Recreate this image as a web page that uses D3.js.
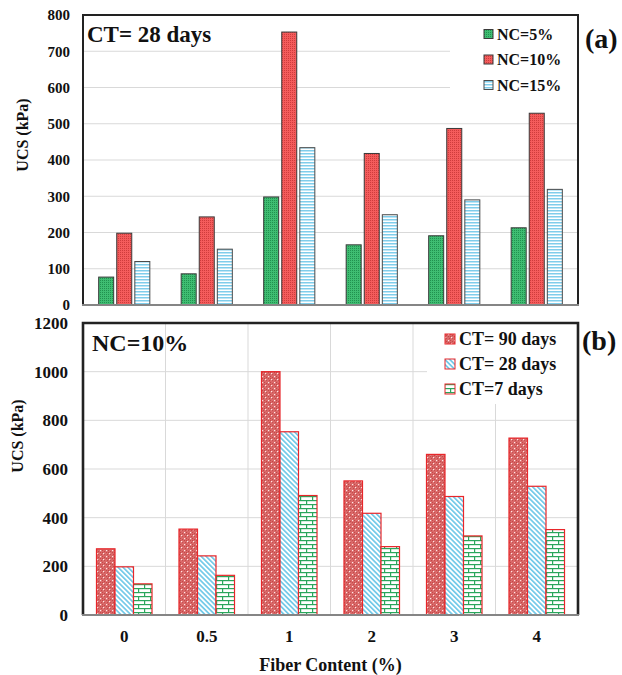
<!DOCTYPE html>
<html>
<head>
<meta charset="utf-8">
<script src="https://cdn.jsdelivr.net/npm/d3@7"></script>
<style>
  html, body { margin: 0; padding: 0; background: #fff; }
  svg text { font-family: "Liberation Serif", "Times New Roman", serif; font-weight: bold; fill: #111; }
</style>
</head>
<body>
<svg id="chart" width="622" height="675"></svg>
<script>
// Fiber content categories (%)
const fiberContent = ["0", "0.5", "1", "2", "3", "4"];

// (a) UCS at 28 days curing, by nano-clay content
const nc5  = [77, 86, 298, 166, 191, 213];
const nc10 = [198, 243, 753, 418, 487, 529];
const nc15 = [120, 154, 434, 249, 290, 319];

// (b) UCS at NC = 10%, by curing time
const ct90 = [272, 353, 1000, 551, 660, 727];
const ct28 = [198, 243, 753, 418, 487, 529];
const ct7  = [128, 163, 491, 281, 325, 351];

const ticksA = [0, 100, 200, 300, 400, 500, 600, 700, 800];
const ticksB = [0, 200, 400, 600, 800, 1000, 1200];

const seriesA = [
  { name: "NC=5%",  values: nc5,  fill: "url(#pGreenDots)", stroke: "#3a3a3a" },
  { name: "NC=10%", values: nc10, fill: "url(#pRedDots)",   stroke: "#3a3a3a" },
  { name: "NC=15%", values: nc15, fill: "url(#pBlueLines)", stroke: "#4a4a4a" }
];
const seriesB = [
  { name: "CT= 90 days", values: ct90, fill: "url(#pRedSpeckle)", stroke: "#e8262a" },
  { name: "CT= 28 days", values: ct28, fill: "url(#pBlueDiag)",   stroke: "#e8262a" },
  { name: "CT=7 days",   values: ct7,  fill: "url(#pGreenBrick)", stroke: "#e8262a" }
];

const svg = d3.select("#chart");
const defs = svg.append("defs");

// ---- fill patterns ----
function pattern(id, w, h, transform) {
  const p = defs.append("pattern").attr("id", id).attr("patternUnits", "userSpaceOnUse")
    .attr("width", w).attr("height", h);
  if (transform) p.attr("patternTransform", transform);
  return p;
}
let p = pattern("pGreenDots", 2, 2);
p.append("rect").attr("width", 2).attr("height", 2).attr("fill", "#3fbd72");
p.append("rect").attr("width", 1).attr("height", 1).attr("fill", "#21914f");

p = pattern("pRedDots", 2, 2);
p.append("rect").attr("width", 2).attr("height", 2).attr("fill", "#f45c5c");
p.append("rect").attr("width", 1).attr("height", 1).attr("fill", "#cf3c3c");

p = pattern("pBlueLines", 4, 3);
p.append("rect").attr("width", 4).attr("height", 3).attr("fill", "#ffffff");
p.append("rect").attr("width", 4).attr("height", 1.5).attr("fill", "#7fcdeb");

p = pattern("pRedSpeckle", 6, 6);
p.append("rect").attr("width", 6).attr("height", 6).attr("fill", "#d96868");
[[0, 0], [2, 2], [4, 0], [0, 4], [4, 4], [2, 5], [5, 2]].forEach(([x, y]) =>
  p.append("rect").attr("x", x).attr("y", y).attr("width", 1).attr("height", 1).attr("fill", "#c44848"));
p.append("rect").attr("x", 1).attr("y", 1).attr("width", 1.2).attr("height", 1.2).attr("fill", "#ffe6e6");
p.append("rect").attr("x", 4).attr("y", 4).attr("width", 1.2).attr("height", 1.2).attr("fill", "#ffe6e6");

p = pattern("pBlueDiag", 3.5, 3.5, "rotate(-45)");
p.append("rect").attr("width", 3.5).attr("height", 3.5).attr("fill", "#ffffff");
p.append("rect").attr("width", 1.7).attr("height", 3.5).attr("fill", "#72c9e8");

p = pattern("pGreenBrick", 12, 8);
p.append("rect").attr("width", 12).attr("height", 8).attr("fill", "#ffffff");
p.append("rect").attr("y", 0).attr("width", 12).attr("height", 1.2).attr("fill", "#2aa65c");
p.append("rect").attr("y", 4).attr("width", 12).attr("height", 1.2).attr("fill", "#2aa65c");
p.append("rect").attr("x", 0).attr("y", 0).attr("width", 1.2).attr("height", 4).attr("fill", "#2aa65c");
p.append("rect").attr("x", 6).attr("y", 4).attr("width", 1.2).attr("height", 4).attr("fill", "#2aa65c");

// ---- shared horizontal layout ----
const plotLeft = 83, plotRight = 578;
const serifFont = '"Liberation Serif", "Times New Roman", serif';

function drawPanel(cfg) {
  const g = svg.append("g");
  const y = d3.scaleLinear().domain([0, cfg.max]).range([cfg.bottom, cfg.top]);
  const x0 = d3.scaleBand().domain(fiberContent).range([plotLeft, plotRight])
    .paddingInner(cfg.padInner).paddingOuter(cfg.padInner / 2);
  const x1 = d3.scaleBand().domain(cfg.series.map(s => s.name)).range([0, x0.bandwidth()])
    .paddingInner(cfg.barGap);

  // horizontal grid
  g.append("g").selectAll("line").data(cfg.ticks.slice(1)).join("line")
    .attr("x1", plotLeft).attr("x2", plotRight)
    .attr("y1", d => y(d)).attr("y2", d => y(d))
    .attr("stroke", "#d9d9d9").attr("stroke-width", 1);

  // vertical grid between categories
  if (cfg.vgrid) {
    const half = (x0.step() - x0.bandwidth()) / 2;
    g.append("g").selectAll("line").data(fiberContent.slice(1)).join("line")
      .attr("x1", d => x0(d) - half).attr("x2", d => x0(d) - half)
      .attr("y1", cfg.top).attr("y2", cfg.bottom)
      .attr("stroke", "#d9d9d9").attr("stroke-width", 1);
  }

  // legend background hides the grid behind it
  g.append("rect").attr("x", cfg.legendBox[0]).attr("y", cfg.top)
    .attr("width", plotRight - cfg.legendBox[0]).attr("height", cfg.legendBox[1] - cfg.top)
    .attr("fill", "#fff");

  // bars
  cfg.series.forEach(s => {
    g.append("g").selectAll("rect").data(s.values).join("rect")
      .attr("x", (d, i) => x0(fiberContent[i]) + x1(s.name))
      .attr("y", d => y(d))
      .attr("width", x1.bandwidth())
      .attr("height", d => y(0) - y(d))
      .attr("fill", s.fill).attr("stroke", s.stroke).attr("stroke-width", cfg.barStroke);
  });

  // y axis labels
  const yAxis = d3.axisLeft(y).tickValues(cfg.ticks).tickFormat(d3.format("d"))
    .tickSize(0).tickPadding(0);
  const ya = g.append("g").attr("transform", `translate(${cfg.tickRight},0)`).call(yAxis);
  ya.select(".domain").remove();
  ya.selectAll("text").attr("font-size", cfg.tickSize).attr("fill", "#111")
    .attr("font-family", serifFont).attr("font-weight", "bold");

  // frame and baseline
  g.append("path")
    .attr("d", `M${plotLeft},${cfg.bottom}V${cfg.top}H${plotRight}V${cfg.bottom}`)
    .attr("fill", "none").attr("stroke", "#222").attr("stroke-width", cfg.frameWidth);
  g.append("line").attr("x1", plotLeft - 1).attr("x2", plotRight + 1)
    .attr("y1", cfg.bottom).attr("y2", cfg.bottom)
    .attr("stroke", "#858585").attr("stroke-width", 2.2);

  // y title
  g.append("text")
    .attr("transform", `translate(${cfg.yTitle[0]},${cfg.yTitle[1]}) rotate(-90)`)
    .attr("text-anchor", "middle").attr("dominant-baseline", "central")
    .attr("font-size", 16).text("UCS (kPa)");

  // in-plot title
  g.append("text").attr("x", cfg.title[1]).attr("y", cfg.title[2])
    .attr("font-size", cfg.title[3]).text(cfg.title[0]);

  // panel tag
  g.append("text").attr("x", cfg.tag[1]).attr("y", cfg.tag[2])
    .attr("font-size", 28).text(cfg.tag[0]);

  // legend
  const lg = g.append("g");
  cfg.series.forEach((s, i) => {
    const cy = cfg.legend.y0 + i * cfg.legend.dy;
    lg.append("rect").attr("x", cfg.legend.x).attr("y", cy - cfg.legend.box / 2)
      .attr("width", cfg.legend.box).attr("height", cfg.legend.box)
      .attr("fill", s.fill).attr("stroke", s.stroke).attr("stroke-width", 1);
    lg.append("text").attr("x", cfg.legend.x + cfg.legend.box + 4).attr("y", cy)
      .attr("dominant-baseline", "central").attr("font-size", cfg.legend.size).text(s.name);
  });

  return { g, x0, y };
}

drawPanel({
  series: seriesA, max: 800, ticks: ticksA, top: 15, bottom: 305,
  padInner: 0.38, barGap: 0.17, barStroke: 1, vgrid: false,
  tickRight: 70, tickSize: 15, frameWidth: 2, yTitle: [22, 135],
  legendBox: [450, 100],
  title: ["CT= 28 days", 87, 42, 23],
  tag: ["(a)", 585, 48],
  legend: { x: 484, y0: 34, dy: 25.5, box: 9, size: 16 }
});

const panelB = drawPanel({
  series: seriesB, max: 1200, ticks: ticksB, top: 323, bottom: 615,
  padInner: 0.327, barGap: 0, barStroke: 1.2, vgrid: true,
  tickRight: 68, tickSize: 17, frameWidth: 2.6, yTitle: [17, 436],
  legendBox: [427, 404],
  title: ["NC=10%", 92, 351, 24],
  tag: ["(b)", 582, 350],
  legend: { x: 445, y0: 339, dy: 25, box: 10, size: 18 }
});

// x axis labels under panel (b)
const xa = svg.append("g").attr("transform", "translate(0,630)")
  .call(d3.axisBottom(panelB.x0).tickSize(0).tickPadding(0));
xa.select(".domain").remove();
xa.selectAll("text").attr("font-size", 17).attr("fill", "#111")
  .attr("font-family", serifFont).attr("font-weight", "bold");

svg.append("text").attr("x", (plotLeft + plotRight) / 2).attr("y", 671)
  .attr("text-anchor", "middle").attr("font-size", 18).text("Fiber Content (%)");
</script>
</body>
</html>
